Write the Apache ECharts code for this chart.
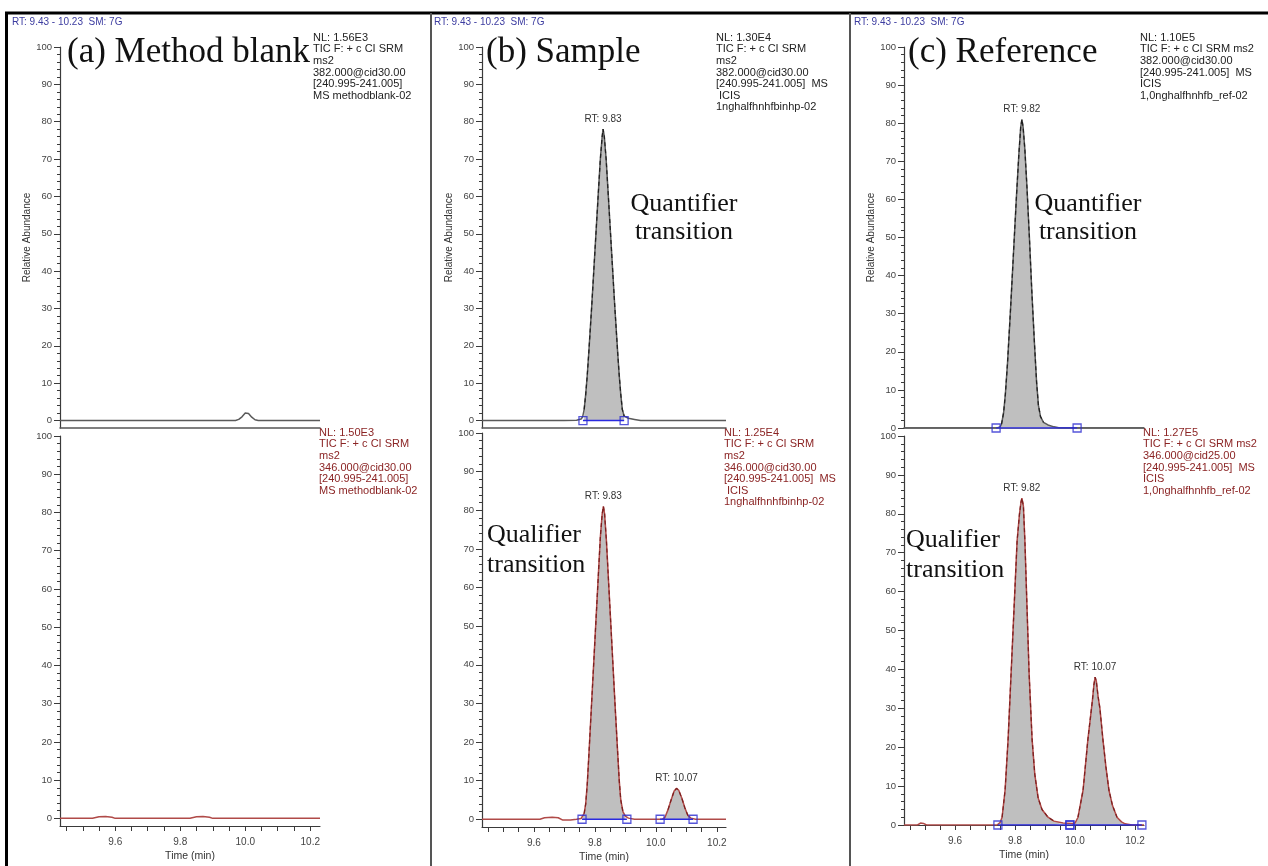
<!DOCTYPE html>
<html>
<head>
<meta charset="utf-8">
<script src="https://cdn.jsdelivr.net/npm/echarts@6/dist/echarts.min.js"></script>
<style>
html,body{margin:0;padding:0;background:#fff;}
#chart{width:1268px;height:866px;}
</style>
</head>
<body>
<div id="chart"></div>
<script>
// ---------------- DATA ----------------
const timeMin = 9.43;
const timeMax = 10.23;
const xTickValues = [9.45, 9.50, 9.55, 9.60, 9.65, 9.70, 9.75, 9.80, 9.85, 9.90, 9.95, 10.00, 10.05, 10.10, 10.15, 10.20];
const xLabelValues = [9.6, 9.8, 10.0, 10.2];
const yLabelValues = [0, 10, 20, 30, 40, 50, 60, 70, 80, 90, 100];
const yMinorValues = [0, 2, 4, 6, 8, 10, 12, 14, 16, 18, 20, 22, 24, 26, 28, 30, 32, 34, 36, 38, 40, 42, 44, 46, 48, 50,
  52, 54, 56, 58, 60, 62, 64, 66, 68, 70, 72, 74, 76, 78, 80, 82, 84, 86, 88, 90, 92, 94, 96, 98, 100];

const panelTitles = ['(a) Method blank', '(b) Sample', '(c) Reference'];
const headerText = 'RT: 9.43 - 10.23  SM: 7G';

const infoBlankQuan = ['NL: 1.56E3', 'TIC F: + c CI SRM', 'ms2', '382.000@cid30.00', '[240.995-241.005]', 'MS methodblank-02'];
const infoBlankQual = ['NL: 1.50E3', 'TIC F: + c CI SRM', 'ms2', '346.000@cid30.00', '[240.995-241.005]', 'MS methodblank-02'];
const infoSampleQuan = ['NL: 1.30E4', 'TIC F: + c CI SRM', 'ms2', '382.000@cid30.00', '[240.995-241.005]  MS', ' ICIS', '1nghalfhnhfbinhp-02'];
const infoSampleQual = ['NL: 1.25E4', 'TIC F: + c CI SRM', 'ms2', '346.000@cid30.00', '[240.995-241.005]  MS', ' ICIS', '1nghalfhnhfbinhp-02'];
const infoRefQuan = ['NL: 1.10E5', 'TIC F: + c CI SRM ms2', '382.000@cid30.00', '[240.995-241.005]  MS', 'ICIS', '1,0nghalfhnhfb_ref-02'];
const infoRefQual = ['NL: 1.27E5', 'TIC F: + c CI SRM ms2', '346.000@cid25.00', '[240.995-241.005]  MS', 'ICIS', '1,0nghalfhnhfb_ref-02'];

// traces: [time (min), relative abundance]
const traceBlankQuan = [[9.43,0],[9.97,0],[9.98,0.3],[9.99,1],[10.00,2],[10.005,2.2],[10.01,1.9],[10.02,0.9],[10.03,0.2],[10.04,0],[10.23,0]];
const traceBlankQual = [[9.43,0],[9.53,0],[9.55,0.4],[9.57,0.5],[9.59,0.3],[9.60,0],[9.83,0],[9.85,0.4],[9.87,0.5],[9.89,0.3],[9.90,0],[10.23,0]];
const traceSampleQuan = [[9.43,0],[9.70,0],[9.74,0.1],[9.755,0.4],[9.760,1],[9.765,3],[9.770,7],[9.775,12],[9.780,18],[9.790,31],[9.800,45],[9.810,59],[9.818,70],[9.824,76],[9.827,78],[9.831,76],[9.837,70],[9.845,59],[9.855,45],[9.865,31],[9.875,18],[9.880,12],[9.885,7],[9.890,3],[9.896,1.2],[9.91,0.6],[9.93,0.3],[9.95,0],[10.23,0]];
const traceSampleQual = [[9.43,0],[9.62,0],[9.635,0.4],[9.66,0.5],[9.68,0.4],[9.695,-0.2],[9.72,-0.2],[9.74,0],[9.755,0.2],[9.760,0.5],[9.765,1.5],[9.770,4],[9.775,9],[9.780,16],[9.790,31],[9.800,46],[9.810,61],[9.818,73],[9.824,79],[9.828,81],[9.832,79],[9.838,72],[9.846,60],[9.856,45],[9.866,30],[9.875,17],[9.880,10],[9.885,5],[9.892,2],[9.900,0.8],[9.91,0.3],[9.93,0],[10.02,0],[10.03,0.5],[10.04,2.5],[10.05,5],[10.06,7.3],[10.068,8],[10.075,7.5],[10.085,5.5],[10.095,3],[10.105,1],[10.115,0.3],[10.13,0],[10.23,0]];
const traceRefQuan = [[9.43,0],[9.74,0],[9.750,0.3],[9.755,1],[9.762,4],[9.768,9],[9.775,17],[9.785,31],[9.795,46],[9.805,61],[9.813,72],[9.819,79],[9.823,81],[9.827,79],[9.833,73],[9.840,63],[9.848,50],[9.856,36],[9.865,22],[9.872,12],[9.878,6],[9.885,3],[9.895,1.5],[9.91,0.8],[9.93,0.3],[9.95,0],[10.23,0]];
const traceRefQual = [[9.43,0],[9.475,0],[9.485,0.5],[9.495,0.4],[9.505,0],[9.74,0],[9.750,0.6],[9.757,2],[9.767,9],[9.777,22],[9.787,39],[9.797,56],[9.807,73],[9.815,80],[9.820,83],[9.823,84],[9.828,82],[9.833,73],[9.840,56],[9.847,39],[9.857,22],[9.866,13],[9.877,7],[9.89,4],[9.91,2],[9.93,1],[9.96,0.5],[9.99,0.4],[10.00,0.5],[10.01,2],[10.027,9],[10.043,22],[10.052,28],[10.058,32],[10.063,36],[10.067,38],[10.071,37],[10.077,33],[10.083,30],[10.093,22],[10.103,15],[10.113,9],[10.125,5],[10.14,2],[10.155,0.8],[10.167,0.3],[10.19,0],[10.23,0]];

// integration windows [start, end] (min)
const windowsBlankQuan = [];
const windowsBlankQual = [];
const windowsSampleQuan = [[9.761, 9.896]];
const windowsSampleQual = [[9.758, 9.905], [10.014, 10.122]];
const windowsRefQuan = [[9.737, 10.007]];
const windowsRefQual = [[9.743, 9.983], [9.983, 10.223]];

// peak labels: [time, height, text]
const peaksSampleQuan = [[9.827, 78, 'RT: 9.83']];
const peaksSampleQual = [[9.828, 81, 'RT: 9.83'], [10.068, 8, 'RT: 10.07']];
const peaksRefQuan = [[9.823, 81, 'RT: 9.82']];
const peaksRefQual = [[9.823, 84, 'RT: 9.82'], [10.067, 38, 'RT: 10.07']];

// ---------------- LAYOUT ----------------
const panels = [
  {grid:{left:60, top:47, width:260, height:381}, yMin:-2, top:true, trace:traceBlankQuan, win:windowsBlankQuan, peaks:[], info:infoBlankQuan, infoX:313, infoY:32},
  {grid:{left:60, top:436, width:260, height:390}, yMin:-2, top:false, trace:traceBlankQual, win:windowsBlankQual, peaks:[], info:infoBlankQual, infoX:319, infoY:427},
  {grid:{left:482, top:47, width:244, height:381}, yMin:-2, top:true, trace:traceSampleQuan, win:windowsSampleQuan, peaks:peaksSampleQuan, info:infoSampleQuan, infoX:716, infoY:32},
  {grid:{left:482, top:433, width:244, height:394}, yMin:-2, top:false, trace:traceSampleQual, win:windowsSampleQual, peaks:peaksSampleQual, info:infoSampleQual, infoX:724, infoY:427},
  {grid:{left:904, top:47, width:240, height:381}, yMin:0, top:true, trace:traceRefQuan, win:windowsRefQuan, peaks:peaksRefQuan, info:infoRefQuan, infoX:1140, infoY:32},
  {grid:{left:904, top:436, width:240, height:389}, yMin:0, top:false, trace:traceRefQual, win:windowsRefQual, peaks:peaksRefQual, info:infoRefQual, infoX:1143, infoY:427}
];

const AX = '#3a3a3a';
const FONT = 'Liberation Sans, Arial, sans-serif';
const grids = [], xAxes = [], yAxes = [], series = [], graphics = [];

panels.forEach((p, i) => {
  grids.push(Object.assign({containLabel:false, outerBoundsMode:'none'}, p.grid));
  xAxes.push({
    type:'value', gridIndex:i, min:timeMin, max:timeMax,
    axisLine:{show:true, onZero:false, lineStyle:{color: p.top ? '#555' : AX, width: p.top ? 1.5 : 1.2}},
    axisTick:{show:!p.top, customValues:xTickValues, length:5, lineStyle:{color:AX}},
    axisLabel:{show:!p.top, customValues:xLabelValues, formatter:v => v.toFixed(1), fontSize:10, color:'#444', margin:11, fontFamily:FONT},
    splitLine:{show:false},
    name: p.top ? '' : 'Time (min)', nameLocation:'middle', nameGap:25,
    nameTextStyle:{fontSize:10.5, color:'#333', fontFamily:FONT}
  });
  const yMajorIndex = yAxes.length;
  yAxes.push({
    type:'value', gridIndex:i, min:p.yMin, max:100, position:'left',
    axisLine:{show:true, onZero:false, lineStyle:{color:AX, width:1.2}},
    axisTick:{show:true, customValues:yLabelValues, length:6, lineStyle:{color:AX}},
    axisLabel:{customValues:yLabelValues, fontSize:9.5, color:'#444', margin:8, fontFamily:FONT},
    splitLine:{show:false},
    name: p.top ? 'Relative Abundance' : '', nameLocation:'middle', nameGap:24,
    nameTextStyle:{fontSize:10, color:'#333', fontFamily:FONT}
  });
  yAxes.push({
    type:'value', gridIndex:i, min:p.yMin, max:100, position:'left', offset:0,
    axisLine:{show:false, onZero:false},
    axisTick:{show:true, customValues:yMinorValues, length:3, lineStyle:{color:AX}},
    axisLabel:{show:false}, splitLine:{show:false}
  });

  const lineColor = p.top ? '#5a5a5a' : '#b04a48';
  const dashColor = p.top ? '#1e1e1e' : '#7a1e1e';

  // gray filled areas for integrated peaks (with dark dashed outline)
  p.win.forEach(w => {
    const pts = p.trace.filter(d => d[0] >= w[0] - 1e-9 && d[0] <= w[1] + 1e-9);
    series.push({
      type:'line', xAxisIndex:i, yAxisIndex:yMajorIndex, data:pts, showSymbol:false, silent:true,
      lineStyle:{width:0}, areaStyle:{color:'#bfbfbf', opacity:1, origin:0}, z:1
    });
  });
  // trace line
  series.push({
    type:'line', xAxisIndex:i, yAxisIndex:yMajorIndex, data:p.trace, showSymbol:false, silent:true,
    lineStyle:{color:lineColor, width: p.top ? 1.5 : 1.5}, z:2,
    markPoint:{
      symbol:'circle', symbolSize:0, silent:true,
      label:{show:true, position:'top', distance:5, fontSize:10, color:'#333', fontFamily:FONT, formatter: prm => prm.name},
      data:p.peaks.map(k => ({name:k[2], coord:[k[0], k[1]]}))
    }
  });
  p.win.forEach(w => {
    const pts = p.trace.filter(d => d[0] >= w[0] - 1e-9 && d[0] <= w[1] + 1e-9 && d[1] > 0.8);
    series.push({
      type:'line', xAxisIndex:i, yAxisIndex:yMajorIndex, data:pts, showSymbol:false, silent:true,
      lineStyle:{color:dashColor, width:1.2, type:[4, 3]}, z:3
    });
  });
  // integration baselines
  p.win.forEach(w => {
    series.push({
      type:'line', xAxisIndex:i, yAxisIndex:yMajorIndex, data:[[w[0],0],[w[1],0]], showSymbol:false, silent:true,
      lineStyle:{color:'#2a2ae0', width:1.5}, z:4
    });
  });
  // integration markers
  if (p.win.length) {
    const marks = [];
    p.win.forEach(w => { marks.push([w[0],0]); marks.push([w[1],0]); });
    series.push({
      type:'scatter', xAxisIndex:i, yAxisIndex:yMajorIndex, data:marks, symbol:'rect', symbolSize:8, silent:true,
      itemStyle:{color:'rgba(255,255,255,0)', borderColor:'#2a2ad0', borderWidth:1.3}, z:5
    });
  }

  // info block
  graphics.push({
    type:'text', left:p.infoX, top:p.infoY, silent:true,
    style:{text:p.info.join('\n'), font:'11px ' + FONT, lineHeight:11.6, fill: p.top ? '#222' : '#8b2424'}
  });
});

// borders & separators
graphics.push({type:'line', silent:true, shape:{x1:5, y1:13, x2:1268, y2:13}, style:{stroke:'#000', lineWidth:3}});
graphics.push({type:'line', silent:true, shape:{x1:6.5, y1:12, x2:6.5, y2:866}, style:{stroke:'#000', lineWidth:3}});
graphics.push({type:'line', silent:true, shape:{x1:431, y1:13, x2:431, y2:866}, style:{stroke:'#555', lineWidth:2}});
graphics.push({type:'line', silent:true, shape:{x1:850, y1:13, x2:850, y2:866}, style:{stroke:'#555', lineWidth:2}});

// headers & titles
[[12, 67], [434, 486], [854, 908]].forEach((pos, k) => {
  graphics.push({type:'text', left:pos[0], top:17, silent:true,
    style:{text:headerText, font:'10px ' + FONT, fill:'#3c3ca0'}});
  graphics.push({type:'text', left:pos[1], top:35, silent:true,
    style:{text:panelTitles[k], font:'35px Liberation Serif, Times New Roman, serif', fill:'#111'}});
});

// annotations
const serif26 = '26px Liberation Serif, Times New Roman, serif';
graphics.push({type:'text', x:684, y:190, silent:true, style:{text:'Quantifier\ntransition', font:serif26, lineHeight:28, align:'center', fill:'#111'}});
graphics.push({type:'text', x:1088, y:190, silent:true, style:{text:'Quantifier\ntransition', font:serif26, lineHeight:28, align:'center', fill:'#111'}});
graphics.push({type:'text', x:487, y:520, silent:true, style:{text:'Qualifier\ntransition', font:serif26, lineHeight:30, fill:'#111'}});
graphics.push({type:'text', x:906, y:525, silent:true, style:{text:'Qualifier\ntransition', font:serif26, lineHeight:30, fill:'#111'}});

const chart = echarts.init(document.getElementById('chart'), null, {renderer:'canvas'});
chart.setOption({
  animation:false,
  backgroundColor:'#fff',
  grid:grids, xAxis:xAxes, yAxis:yAxes, series:series, graphic:graphics
});
</script>
</body>
</html>
